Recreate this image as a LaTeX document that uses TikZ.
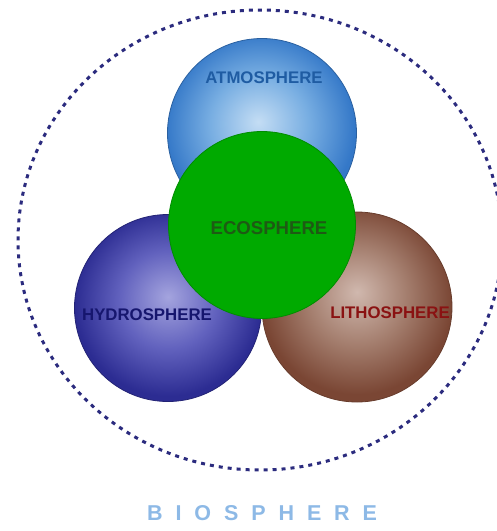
\documentclass[tikz,border=0pt]{standalone}
\usepackage{fontspec}
\setmainfont{Liberation Sans}
\usetikzlibrary{shapes.geometric}
\definecolor{atmin}{HTML}{C4DDF4}
\definecolor{atmmid}{HTML}{78AEE2}
\definecolor{atmout}{HTML}{3478C8}
\definecolor{hydin}{HTML}{A4A4DE}
\definecolor{hydmid}{HTML}{6262BE}
\definecolor{hydout}{HTML}{2C2C92}
\definecolor{litin}{HTML}{D0B8AE}
\definecolor{litmid}{HTML}{A47E6E}
\definecolor{litout}{HTML}{7A4634}
\definecolor{ecofill}{HTML}{00AA00}
\definecolor{ecoline}{HTML}{008C00}
\definecolor{atmtext}{HTML}{1F5CA3}
\definecolor{ecotext}{HTML}{1E5A14}
\definecolor{hydtext}{HTML}{16166E}
\definecolor{littext}{HTML}{8A1212}
\definecolor{biotext}{HTML}{8DB9E6}
\definecolor{dashcol}{HTML}{2B2B7E}
\pgfdeclareradialshading{atmshade}{\pgfpoint{-1bp}{3bp}}{color(0bp)=(atmin); color(13bp)=(atmmid); color(25bp)=(atmout); color(50bp)=(atmout)}
\pgfdeclareradialshading{hydshade}{\pgfpoint{0bp}{3bp}}{color(0bp)=(hydin); color(13bp)=(hydmid); color(25bp)=(hydout); color(50bp)=(hydout)}
\pgfdeclareradialshading{litshade}{\pgfpoint{0bp}{4bp}}{color(0bp)=(litin); color(13bp)=(litmid); color(25bp)=(litout); color(50bp)=(litout)}
\tikzset{
  sphere/.style={circle, inner sep=0pt, line width=0.8pt},
  sphlabel/.style={inner sep=0pt, font=\bfseries\fontsize{16.8}{18}\selectfont},
  biolabel/.style={inner sep=0pt, anchor=west, font=\bfseries\fontsize{21.5}{23}\selectfont\addfontfeatures{LetterSpace=60}, text=biotext},
  envelope/.style={draw=dashcol, line width=3pt, dash pattern=on 4pt off 5pt}
}
\begin{document}
\begin{tikzpicture}[x=1pt,y=-1pt]
\useasboundingbox (0,0) rectangle (497,531);
\node[envelope, ellipse, minimum width=484pt, minimum height=460pt, inner sep=0pt] (bio) at (260,240) {};
\node[sphere, minimum size=189pt, shading=atmshade, draw=atmout!80!black] (atm) at (262,133) {};
\node[sphere, minimum size=187pt, shading=hydshade, draw=hydout!80!black] (hyd) at (168,308) {};
\node[sphere, minimum size=190pt, shading=litshade, draw=litout!85!black] (lit) at (357,307) {};
\node[sphere, minimum size=187pt, fill=ecofill, draw=ecoline] (eco) at (262,225) {};
\node[sphlabel, text=atmtext] (atmlab) at (264,78) {ATMOSPHERE};
\node[sphlabel, text=ecotext, font=\bfseries\fontsize{18.6}{20}\selectfont] (ecolab) at (269,228) {ECOSPHERE};
\node[sphlabel, text=hydtext] (hydlab) at (147,315) {HYDROSPHERE};
\node[sphlabel, text=littext] (litlab) at (390,313) {LITHOSPHERE};
\node[biolabel] (biolab) at (147,513) {BIOSPHERE};
\end{tikzpicture}
\end{document}
